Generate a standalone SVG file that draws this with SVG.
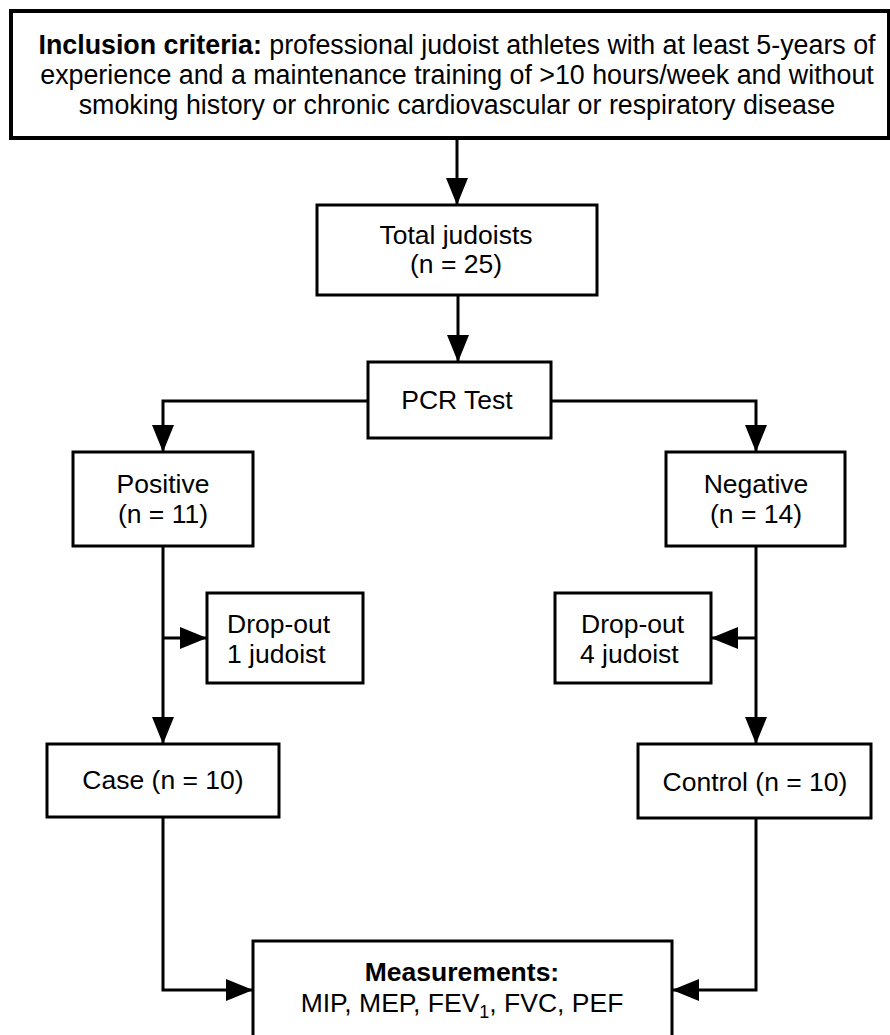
<svg xmlns="http://www.w3.org/2000/svg" width="890" height="1035" viewBox="0 0 890 1035">
<style>
.box{fill:#fff;stroke:#000;stroke-width:3}
.top{stroke-width:4}
.t{font-family:"Liberation Sans",Arial,sans-serif;font-size:26.5px;fill:#000;text-anchor:middle}
.big{font-size:26.8px}
.tl{text-anchor:start}
.b{font-weight:bold}
.c{fill:none;stroke:#000;stroke-width:3}
</style>
<defs>
<marker id="ah" markerUnits="userSpaceOnUse" viewBox="0 0 27 22" refX="27" refY="11" markerWidth="27" markerHeight="22" orient="auto">
<path d="M0,0 L27,11 L0,22 Z" fill="#000"/>
</marker>
</defs>
<rect width="890" height="1035" fill="#fff"/>
<g id="connectors">
<path class="c" d="M457,138 V205" marker-end="url(#ah)"/>
<path class="c" d="M458,295 V362" marker-end="url(#ah)"/>
<path class="c" d="M368,401 H163 V452" marker-end="url(#ah)"/>
<path class="c" d="M551,401 H756 V452" marker-end="url(#ah)"/>
<path class="c" d="M163,546 V744" marker-end="url(#ah)"/>
<path class="c" d="M163,638 H207" marker-end="url(#ah)"/>
<path class="c" d="M756,546 V744" marker-end="url(#ah)"/>
<path class="c" d="M756,638 H711" marker-end="url(#ah)"/>
<path class="c" d="M163,817 V990 H253" marker-end="url(#ah)"/>
<path class="c" d="M756,818 V990 H672" marker-end="url(#ah)"/>
</g>
<g id="inclusion">
<rect class="box top" x="11" y="11" width="878" height="127"/>
<text class="t big" x="457" y="54"><tspan class="b">Inclusion criteria:</tspan> professional judoist athletes with at least 5-years of</text>
<text class="t big" x="457" y="84">experience and a maintenance training of &gt;10 hours/week and without</text>
<text class="t big" x="457" y="114">smoking history or chronic cardiovascular or respiratory disease</text>
</g>
<g id="total">
<rect class="box" x="317" y="205" width="280" height="90"/>
<text class="t" x="456" y="244">Total judoists</text>
<text class="t" x="456" y="273">(n = 25)</text>
</g>
<g id="pcr">
<rect class="box" x="368" y="362" width="183" height="76"/>
<text class="t" x="457" y="409">PCR Test</text>
</g>
<g id="positive">
<rect class="box" x="73" y="452" width="180" height="94"/>
<text class="t" x="163" y="493">Positive</text>
<text class="t" x="163" y="523">(n = 11)</text>
</g>
<g id="negative">
<rect class="box" x="666" y="452" width="179" height="94"/>
<text class="t" x="756" y="493">Negative</text>
<text class="t" x="756" y="523">(n = 14)</text>
</g>
<g id="dropout1">
<rect class="box" x="207" y="593" width="156" height="90"/>
<text class="t tl" x="227" y="633">Drop-out</text>
<text class="t tl" x="227" y="663">1 judoist</text>
</g>
<g id="dropout4">
<rect class="box" x="555" y="593" width="156" height="90"/>
<text class="t tl" x="581" y="633">Drop-out</text>
<text class="t tl" x="580" y="663">4 judoist</text>
</g>
<g id="case">
<rect class="box" x="47" y="744" width="232" height="73"/>
<text class="t" x="163" y="789">Case (n = 10)</text>
</g>
<g id="control">
<rect class="box" x="638" y="744" width="233" height="74"/>
<text class="t" x="755" y="791">Control (n = 10)</text>
</g>
<g id="measurements">
<rect class="box" x="253" y="941" width="419" height="110"/>
<text class="t b" x="462" y="981">Measurements:</text>
<text class="t" x="462" y="1012">MIP, MEP, FEV<tspan font-size="18" dy="6">1</tspan><tspan dy="-6">, FVC, PEF</tspan></text>
</g>
</svg>
